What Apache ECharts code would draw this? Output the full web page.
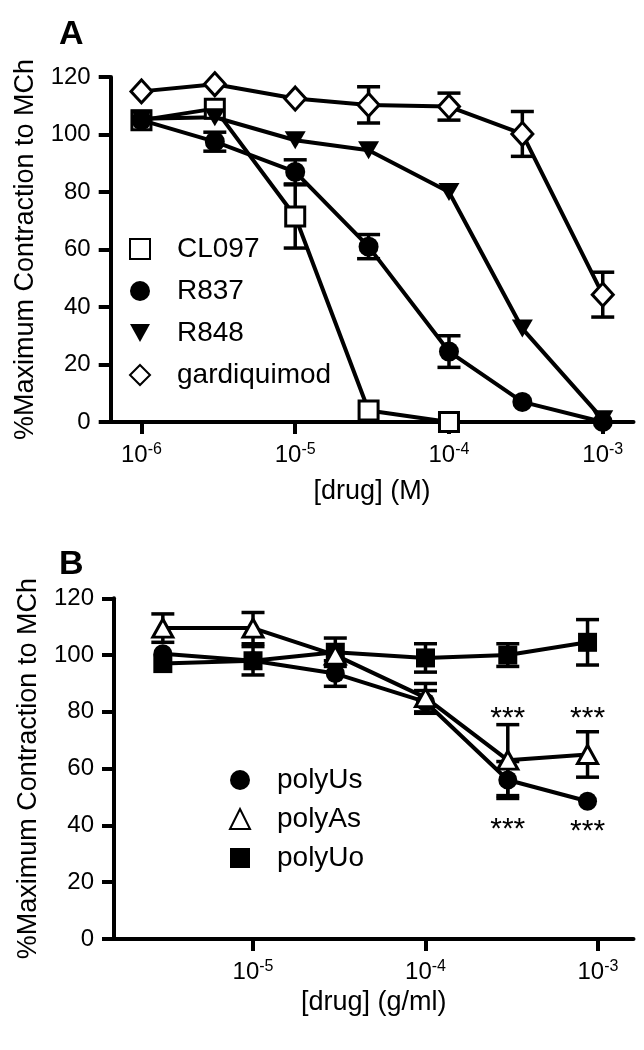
<!DOCTYPE html>
<html><head><meta charset="utf-8">
<script src="https://cdn.jsdelivr.net/npm/echarts@6/dist/echarts.min.js"></script>
<style>html,body{margin:0;padding:0;background:#fff}#c{width:644px;height:1050px}</style>
</head><body><div id="c"></div>
<script>
// ---------- Panel A data ----------
const concA = [1e-6, 3e-6, 1e-5, 3e-5, 1e-4, 3e-4, 1e-3];
const cl097 = [105, 109, 71.5, 4, 0];
const cl097Err = [0, 0, 11, 0, 0];
const r837 = [105, 97.5, 87, 61, 24.5, 7, 0];
const r837Err = [0, 3.3, 4.2, 4.2, 5.5, 0, 0];
const r848 = [105.5, 106, 98, 94.5, 80, 32.5, 1];
const r848Err = [0, 0, 0, 0, 0, 0, 0];
const gard = [115, 117.5, 112.5, 110.3, 109.7, 100.2, 44.3];
const gardErr = [0, 0, 0, 6.3, 4.7, 7.8, 7.8];
// ---------- Panel B data ----------
const concB = [3e-6, 1e-5, 3e-5, 1e-4, 3e-4, 8.7e-4];
const polyUs = [100.5, 98, 93.5, 83.5, 56, 48.5];
const polyUsErr = [0, 0, 4.5, 4, 6.5, 0];
const polyAs = [109.5, 109.5, 100, 85, 63, 65];
const polyAsErr = [5, 5.5, 0, 5, 12.5, 8];
const polyUo = [97, 98, 101, 99, 100, 104.5];
const polyUoErr = [0, 5, 5, 5, 4, 8];
const sigConc = [3e-4, 8.7e-4, 3e-4, 8.7e-4];
const sigVal = [80, 80, 40.8, 40.1];
const sigText = ['***', '***', '***', '***'];
// ---------- ticks ----------
const yTicks = [0, 20, 40, 60, 80, 100, 120];
const xTicksA = [-6, -5, -4, -3];
const xTicksB = [-5, -4, -3];

const FONT = "'Liberation Sans', Arial, Helvetica, sans-serif";
const lg = Math.log10;
function pts(conc, vals) { return vals.map((v, i) => [lg(conc[i]), v]); }
function errPts(conc, vals, errs) {
  const out = [];
  vals.forEach((v, i) => { if (errs[i] > 0) out.push([lg(conc[i]), v, errs[i]]); });
  return out;
}
function errRender(params, api) {
  const x = api.value(0), y = api.value(1), e = api.value(2);
  const t = api.coord([x, y + e]), b = api.coord([x, y - e]);
  const h = 11.5, st = { stroke: '#000', lineWidth: 3.5 };
  return { type: 'group', children: [
    { type: 'line', shape: { x1: t[0], y1: t[1], x2: b[0], y2: b[1] }, style: st },
    { type: 'line', shape: { x1: t[0] - h, y1: t[1], x2: t[0] + h, y2: t[1] }, style: st },
    { type: 'line', shape: { x1: b[0] - h, y1: b[1], x2: b[0] + h, y2: b[1] }, style: st }
  ]};
}
function errSeries(gi, conc, vals, errs) {
  return { type: 'custom', xAxisIndex: gi, yAxisIndex: gi, renderItem: errRender,
    data: errPts(conc, vals, errs), encode: { x: 0, y: 1 }, z: 2, silent: true };
}
function lineSeries(name, gi, conc, vals, sym, size, filled, rotate) {
  return { name, type: 'line', xAxisIndex: gi, yAxisIndex: gi, data: pts(conc, vals),
    symbol: sym, symbolSize: size, symbolRotate: rotate || 0, showAllSymbol: true,
    lineStyle: { color: '#000', width: 4 },
    itemStyle: filled ? { color: '#000', borderColor: '#000', borderWidth: 0 }
                      : { color: '#fff', borderColor: '#000', borderWidth: 3 },
    z: 3, emphasis: { disabled: true }, silent: true };
}
const txt = { fontFamily: FONT, color: '#000' };
function yAx(gi) {
  return { type: 'value', gridIndex: gi, min: 0, max: 120, interval: 20,
    name: '%Maximum Contraction to MCh', nameLocation: 'middle', nameGap: 72,
    nameTextStyle: Object.assign({ fontSize: 27 }, txt),
    axisLine: { show: true, lineStyle: { color: '#000', width: 4 } },
    axisTick: { show: true, length: 12, lineStyle: { color: '#000', width: 4 } },
    axisLabel: Object.assign({ fontSize: 24, margin: 20 }, txt),
    splitLine: { show: false } };
}
function xAx(gi, min, max, ticks, name, gap) {
  return { type: 'value', gridIndex: gi, min, max, name, nameLocation: 'middle', nameGap: gap,
    nameTextStyle: Object.assign({ fontSize: 27 }, txt),
    axisLine: { show: true, onZero: false, lineStyle: { color: '#000', width: 4 } },
    axisTick: { show: true, customValues: ticks, length: 12, lineStyle: { color: '#000', width: 4 } },
    axisLabel: { customValues: ticks, margin: 20, formatter: v => '{b|10}{s|' + v + '}',
      rich: { b: Object.assign({ fontSize: 24 }, txt),
              s: Object.assign({ fontSize: 16, verticalAlign: 'top', padding: [0, 0, 10, 0] }, txt) } },
    splitLine: { show: false } };
}
const legTxt = Object.assign({ fontSize: 28, lineHeight: 28, padding: [0, 0, 0, 22] }, txt);

const option = {
  animation: false,
  backgroundColor: '#fff',
  title: [
    { text: 'A', left: 54, top: 13, textStyle: Object.assign({ fontSize: 34, fontWeight: 'bold' }, txt) },
    { text: 'B', left: 54, top: 543, textStyle: Object.assign({ fontSize: 34, fontWeight: 'bold' }, txt) }
  ],
  grid: [
    { left: 110.7, top: 77, width: 522.8, height: 345 },
    { left: 114, top: 598.3, width: 519.5, height: 340.7 }
  ],
  xAxis: [
    xAx(0, -6.2, -2.8, xTicksA, '[drug] (M)', 56),
    xAx(1, -5.806, -2.794, xTicksB, '[drug] (g/ml)', 50)
  ],
  yAxis: [yAx(0), yAx(1)],
  legend: [
    { data: [{ name: 'CL097', icon: 'rect' }, { name: 'R837', icon: 'circle' },
             { name: 'R848', icon: 'path://M0,0L20,0L10,18Z' }, { name: 'gardiquimod', icon: 'diamond' }],
      orient: 'vertical', left: 124, top: 230, itemWidth: 20, itemHeight: 20, itemGap: 14,
      textStyle: legTxt, selectedMode: false },
    { data: [{ name: 'polyUs', icon: 'circle' }, { name: 'polyAs', icon: 'triangle' }, { name: 'polyUo', icon: 'rect' }],
      orient: 'vertical', left: 224, top: 761, itemWidth: 20, itemHeight: 20, itemGap: 11,
      textStyle: legTxt, selectedMode: false }
  ],
  series: [
    errSeries(0, concA, cl097, cl097Err),
    errSeries(0, concA, r837, r837Err),
    errSeries(0, concA, r848, r848Err),
    errSeries(0, concA, gard, gardErr),
    lineSeries('CL097', 0, concA, cl097, 'rect', 19, false),
    lineSeries('R837', 0, concA, r837, 'circle', 20, true),
    lineSeries('R848', 0, concA, r848, 'triangle', [21, 18], true, 180),
    lineSeries('gardiquimod', 0, concA, gard, 'diamond', [21, 23], false),
    errSeries(1, concB, polyUs, polyUsErr),
    errSeries(1, concB, polyAs, polyAsErr),
    errSeries(1, concB, polyUo, polyUoErr),
    lineSeries('polyUs', 1, concB, polyUs, 'circle', 19, true),
    lineSeries('polyUo', 1, concB, polyUo, 'rect', 19, true),
    lineSeries('polyAs', 1, concB, polyAs, 'triangle', [20, 18], false),
    { type: 'scatter', xAxisIndex: 1, yAxisIndex: 1, symbolSize: 1, itemStyle: { opacity: 0 }, silent: true,
      data: sigConc.map((c, i) => ({ value: [lg(c), sigVal[i]], name: sigText[i] })),
      label: { show: true, position: 'inside', offset: [0, 7], formatter: '{b}',
               fontSize: 30, fontFamily: FONT, color: '#000', opacity: 1 }, z: 5 }
  ]
};
const chart = echarts.init(document.getElementById('c'), null, { renderer: 'canvas' });
chart.setOption(option);
</script></body></html>
